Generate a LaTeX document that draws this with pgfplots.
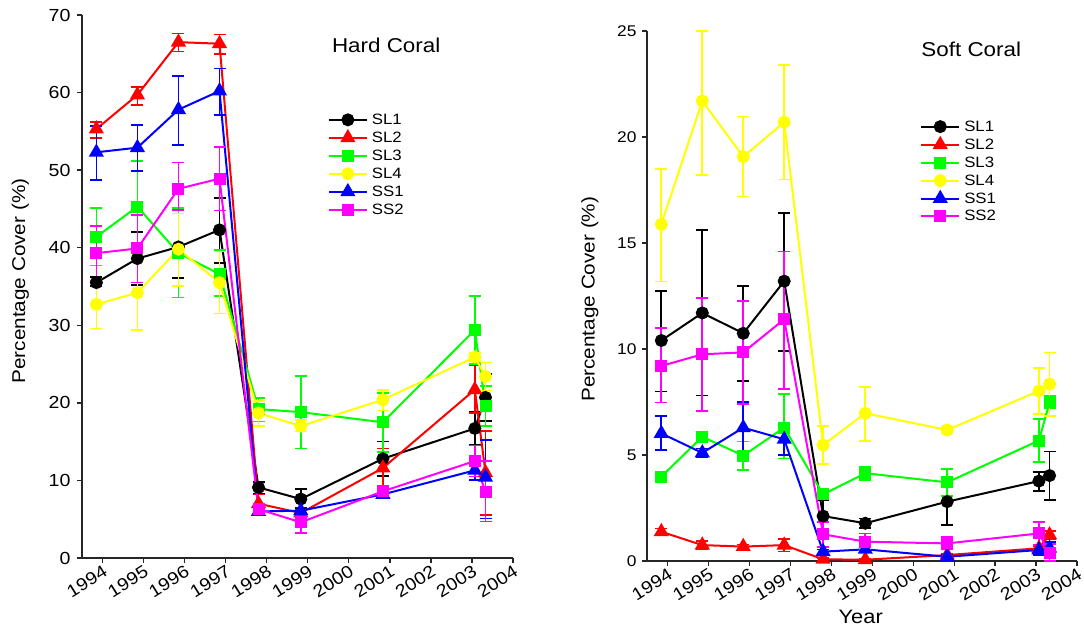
\documentclass[border=0pt]{standalone}
\usepackage{fontspec}
\setmainfont{Liberation Sans}[FakeStretch=1.12]
\usepackage{pgfplots}
\pgfplotsset{compat=1.18}
\definecolor{cBlack}{rgb}{0,0,0}
\definecolor{cRed}{rgb}{1,0,0}
\definecolor{cGreen}{rgb}{0,1,0}
\definecolor{cYellow}{rgb}{1,1,0}
\definecolor{cBlue}{rgb}{0,0,1}
\definecolor{cMag}{rgb}{1,0,1}

\pgfplotsset{
  coralaxis/.style={
    scale only axis,
    xmin=1993.5, xmax=2004, ymin=0,
    xtick={1994,1995,...,2004},
    axis x line*=bottom, axis y line*=left,
    axis line style={-, line width=1.4pt, black!85},
    tick align=outside, major tick length=5pt,
    tick style={line width=1.3pt, black!85},
    /pgf/number format/assume math mode=true,
    /pgf/number format/1000 sep={},
    legend cell align=left,
    clip marker paths=false,
  },
  ser/.style={color=#1, line width=2pt, mark options={solid},
    error bars/y dir=both, error bars/y explicit,
    error bars/error bar style={line width=1.7pt, color=#1},
    error bars/error mark options={rotate=90, mark size=6pt, line width=1.7pt, color=#1}},
  circ/.style={mark=*, mark size=5.5pt},
  tri/.style={mark=triangle*, mark size=6.8pt},
  sqr/.style={mark=square*, mark size=5pt},
  legend image code/.code={
    \draw[mark repeat=2,mark phase=2,#1] plot coordinates {(0pt,0pt) (19pt,0pt) (38pt,0pt)};},
}

\begin{document}
\begin{tikzpicture}
\useasboundingbox (0pt,0pt) rectangle (1084pt,635pt);

%================ HARD CORAL =================
\begin{axis}[coralaxis,
  at={(82pt,77pt)}, anchor=south west,
  width=431pt, height=543pt,
  ymax=70, ytick={0,10,...,70},
  xticklabel style={rotate=32, anchor=north east, inner sep=1pt, font=\fontsize{17.5}{17.5}\selectfont},
  yticklabel style={xshift=-3pt, font=\fontsize{17.5}{17.5}\selectfont},
  ylabel={Percentage Cover (\%)},
  ylabel style={at={(axis description cs:-0.143,0.51)}, anchor=center, font=\fontsize{18.5}{18.5}\selectfont},
  legend style={draw=none, fill=none, at={(axis description cs:0.57,0.822)}, anchor=north west,
    font=\fontsize{15}{18}\selectfont, inner sep=0pt, row sep=2pt, column sep=2pt},
]
\addplot[circ, ser=cBlack] table[x=x,y=y,y error plus=ep,y error minus=em] {
x y ep em
1993.85 35.5 0.7 0.4
1994.85 38.6 3.4 3.4
1995.85 40.1 4.3 4.0
1996.85 42.3 4.1 4.3
1997.8 9.1 0.7 0.8
1998.83 7.6 1.3 1.2
2000.83 12.8 2.2 2.2
2003.07 16.7 2.1 2.1
2003.33 20.7 3.0 3.0
};
\addlegendentry{SL1}
\addplot[tri, ser=cRed] table[x=x,y=y,y error plus=ep,y error minus=em] {
x y ep em
1993.85 55.3 0.9 1.2
1994.85 59.7 1.0 1.3
1995.85 66.5 1.1 1.2
1996.85 66.3 1.2 1.3
1997.8 7.0 1.2 1.0
1998.83 5.8 0.4 0.4
2000.83 11.6 2.5 2.5
2003.07 21.7 3.1 3.0
2003.33 11.0 5.4 5.5
};
\addlegendentry{SL2}
\addplot[sqr, ser=cGreen] table[x=x,y=y,y error plus=ep,y error minus=em] {
x y ep em
1993.85 41.4 3.7 3.7
1994.85 45.3 5.9 5.9
1995.85 39.3 5.8 5.7
1996.85 36.6 3.1 2.8
1997.8 19.2 1.4 1.6
1998.83 18.8 4.7 4.7
2000.83 17.5 3.8 3.8
2003.07 29.4 4.4 4.4
2003.33 19.6 2.6 2.6
};
\addlegendentry{SL3}
\addplot[circ, ser=cYellow] table[x=x,y=y,y error plus=ep,y error minus=em] {
x y ep em
1993.85 32.7 3.2 3.1
1994.85 34.2 4.8 4.8
1995.85 39.8 4.6 4.7
1996.85 35.5 4.0 4.0
1997.8 18.7 1.5 1.7
1998.83 17.0 0.8 0.7
2000.83 20.4 1.3 1.4
2003.07 25.9 0.5 0.5
2003.33 23.4 1.8 1.8
};
\addlegendentry{SL4}
\addplot[tri, ser=cBlue] table[x=x,y=y,y error plus=ep,y error minus=em] {
x y ep em
1993.85 52.3 3.4 3.6
1994.85 52.9 2.9 3.0
1995.85 57.8 4.3 4.6
1996.85 60.2 2.9 3.1
1997.8 6.0 0.3 0.3
1998.83 6.1 0.4 0.4
2000.83 8.2 0.5 0.5
2003.07 11.3 1.2 1.2
2003.33 10.4 4.8 5.3
};
\addlegendentry{SS1}
\addplot[sqr, ser=cMag] table[x=x,y=y,y error plus=ep,y error minus=em] {
x y ep em
1993.85 39.3 3.5 3.6
1994.85 39.9 4.3 4.4
1995.85 47.6 3.4 2.7
1996.85 48.9 4.1 4.1
1997.8 6.3 0.5 0.5
1998.83 4.6 1.0 1.4
2000.83 8.6 0.6 0.6
2003.07 12.5 2.0 2.0
2003.33 8.5 4.0 3.8
};
\addlegendentry{SS2}
\node[anchor=west, font=\fontsize{20}{20}\selectfont] at (rel axis cs:0.572,0.945) {Hard Coral};
\end{axis}

%================ SOFT CORAL =================
\begin{axis}[coralaxis,
  at={(647pt,74pt)}, anchor=south west,
  width=430pt, height=530pt,
  ymax=25, ytick={0,5,...,25},
  xticklabel style={rotate=32, anchor=north east, inner sep=1pt, font=\fontsize{17.5}{17.5}\selectfont},
  yticklabel style={xshift=-2pt, font=\fontsize{15.5}{15.5}\selectfont},
  ylabel={Percentage Cover (\%)},
  ylabel style={at={(axis description cs:-0.133,0.494)}, anchor=center, font=\fontsize{18.5}{18.5}\selectfont},
  xlabel={Year},
  xlabel style={at={(axis description cs:0.497,-0.106)}, anchor=center, font=\fontsize{19.5}{19.5}\selectfont},
  legend style={draw=none, fill=none, at={(axis description cs:0.635,0.835)}, anchor=north west,
    font=\fontsize{15}{18}\selectfont, inner sep=0pt, row sep=2pt, column sep=2pt},
]
\addplot[circ, ser=cBlack] table[x=x,y=y,y error plus=ep,y error minus=em] {
x y ep em
1993.85 10.4 2.35 2.4
1994.85 11.7 3.9 3.9
1995.85 10.74 2.23 2.24
1996.85 13.2 3.2 3.3
1997.8 2.12 0.75 0.6
1998.83 1.78 0.22 0.23
2000.83 2.8 1.1 1.1
2003.07 3.77 0.44 0.47
2003.33 4.03 1.13 1.15
};
\addlegendentry{SL1}
\addplot[tri, ser=cRed] table[x=x,y=y,y error plus=ep,y error minus=em] {
x y ep em
1993.85 1.38 0.15 0.15
1994.85 0.75 0.2 0.2
1995.85 0.68 0.1 0.1
1996.85 0.75 0.3 0.3
1997.8 0.08 0.05 0.05
1998.83 0.06 0.05 0.05
2000.83 0.28 0.05 0.05
2003.07 0.6 0.1 0.1
2003.33 1.23 0.2 0.2
};
\addlegendentry{SL2}
\addplot[sqr, ser=cGreen] table[x=x,y=y,y error plus=ep,y error minus=em] {
x y ep em
1993.85 3.98 0.1 0.1
1994.85 5.86 0.15 0.15
1995.85 4.97 0.66 0.68
1996.85 6.29 1.59 1.45
1997.8 3.14 0.2 0.2
1998.83 4.14 0.28 0.32
2000.83 3.71 0.63 0.64
2003.07 5.68 1.02 1.02
2003.33 7.49 0.3 0.3
};
\addlegendentry{SL3}
\addplot[circ, ser=cYellow] table[x=x,y=y,y error plus=ep,y error minus=em] {
x y ep em
1993.85 15.88 2.6 2.7
1994.85 21.7 3.3 3.5
1995.85 19.07 1.9 1.87
1996.85 20.7 2.7 2.7
1997.8 5.47 0.91 0.91
1998.83 6.97 1.25 1.31
2000.83 6.18 0.15 0.15
2003.07 8.02 1.1 1.1
2003.33 8.35 1.49 1.5
};
\addlegendentry{SL4}
\addplot[tri, ser=cBlue] table[x=x,y=y,y error plus=ep,y error minus=em] {
x y ep em
1993.85 6.02 0.82 0.78
1994.85 5.1 0.2 0.2
1995.85 6.29 1.21 1.29
1996.85 5.74 0.66 0.74
1997.8 0.44 0.1 0.1
1998.83 0.55 0.1 0.1
2000.83 0.2 0.08 0.08
2003.07 0.52 0.25 0.25
2003.33 0.6 0.3 0.3
};
\addlegendentry{SS1}
\addplot[sqr, ser=cMag] table[x=x,y=y,y error plus=ep,y error minus=em] {
x y ep em
1993.85 9.2 1.78 1.73
1994.85 9.75 2.65 2.66
1995.85 9.84 2.44 2.44
1996.85 11.4 3.2 3.3
1997.8 1.26 0.59 0.6
1998.83 0.91 0.39 0.4
2000.83 0.83 0.29 0.28
2003.07 1.3 0.55 0.55
2003.33 0.39 0.4 0.39
};
\addlegendentry{SS2}
\node[anchor=west, font=\fontsize{20}{20}\selectfont] at (rel axis cs:0.63,0.966) {Soft Coral};
\end{axis}
\end{tikzpicture}
\end{document}
